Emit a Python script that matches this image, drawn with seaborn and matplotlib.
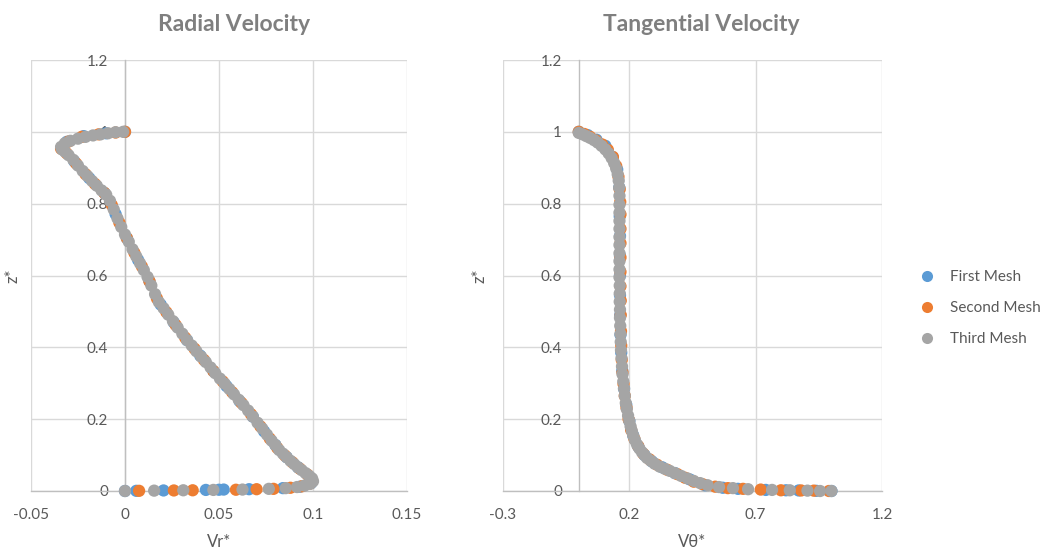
import numpy as np
import pandas as pd
import matplotlib
matplotlib.use("Agg")
import matplotlib.pyplot as plt
import seaborn as sns
from matplotlib.lines import Line2D

# ---------------- data ----------------
mesh_names = ["First Mesh", "Second Mesh", "Third Mesh"]
mesh_colors = ["#5B9BD5", "#ED7D31", "#A5A5A5"]

# Radial velocity Vr* vs z*
vr_first = [0.0, 0.006, 0.0205, 0.043, 0.050, 0.0525, 0.066, 0.084, 0.093, 0.099,
            0.098, 0.092, 0.086, 0.080, 0.074, 0.068, 0.061, 0.054, 0.047, 0.040,
            0.033, 0.026, 0.019, 0.013, 0.007, 0.001, -0.005, -0.011, -0.019, -0.027,
            -0.033, -0.031, -0.022, -0.010, 0.0]
z_r_first = [0.0, 0.0005, 0.0015, 0.003, 0.0035, 0.004, 0.005, 0.008, 0.012, 0.022,
             0.040, 0.066, 0.094, 0.128, 0.166, 0.207, 0.250, 0.292, 0.334, 0.377,
             0.420, 0.469, 0.519, 0.584, 0.643, 0.704, 0.771, 0.830, 0.871, 0.918,
             0.952, 0.972, 0.988, 0.996, 1.0]

vr_second = [0.0075, 0.026, 0.036, 0.059, 0.070, 0.079, 0.088, 0.094, 0.0985, 0.0995,
             0.097, 0.093, 0.089, 0.085, 0.081, 0.077, 0.072, 0.067, 0.062, 0.057,
             0.052, 0.047, 0.042, 0.037, 0.032, 0.027, 0.022, 0.017, 0.013, 0.009,
             0.005, 0.001, -0.003, -0.007, -0.011, -0.016, -0.021, -0.026, -0.031, -0.034,
             -0.030, -0.023, -0.014, -0.005, 0.0]
z_r_second = [0.0005, 0.0015, 0.002, 0.0035, 0.005, 0.006, 0.009, 0.013, 0.021, 0.030,
              0.046, 0.062, 0.080, 0.099, 0.120, 0.146, 0.180, 0.214, 0.245, 0.275,
              0.305, 0.334, 0.365, 0.396, 0.427, 0.462, 0.498, 0.536, 0.584, 0.625,
              0.663, 0.704, 0.747, 0.796, 0.830, 0.855, 0.882, 0.912, 0.940, 0.953,
              0.973, 0.986, 0.993, 0.998, 1.0]

vr_third = [0.0, 0.0155, 0.031, 0.047, 0.0625, 0.0765, 0.0855, 0.0915, 0.0955, 0.0985,
            0.1000, 0.0995, 0.098, 0.096, 0.094, 0.092, 0.090, 0.088, 0.086, 0.084,
            0.082, 0.080, 0.078, 0.0755, 0.073, 0.0705, 0.068, 0.0655, 0.063, 0.0605,
            0.058, 0.0555, 0.053, 0.0505, 0.048, 0.0455, 0.043, 0.0405, 0.038, 0.0355,
            0.033, 0.0305, 0.028, 0.0255, 0.023, 0.0205, 0.018, 0.016, 0.014, 0.012,
            0.010, 0.008, 0.006, 0.004, 0.002, 0.0, -0.002, -0.004, -0.006, -0.008,
            -0.010, -0.0125, -0.015, -0.0175, -0.020, -0.0225, -0.025, -0.0275, -0.030, -0.032,
            -0.0335, -0.034, -0.032, -0.029, -0.025, -0.021, -0.017, -0.013, -0.009, -0.005, -0.001]
z_r_third = [0.0, 0.001, 0.002, 0.003, 0.004, 0.006, 0.008, 0.011, 0.015, 0.020,
             0.027, 0.035, 0.042, 0.050, 0.058, 0.066, 0.075, 0.084, 0.094, 0.104,
             0.114, 0.128, 0.140, 0.157, 0.174, 0.190, 0.207, 0.224, 0.239, 0.254,
             0.269, 0.284, 0.299, 0.313, 0.328, 0.344, 0.359, 0.374, 0.389, 0.405,
             0.420, 0.438, 0.455, 0.473, 0.491, 0.509, 0.526, 0.548, 0.572, 0.596,
             0.615, 0.634, 0.653, 0.673, 0.694, 0.714, 0.735, 0.759, 0.784, 0.808,
             0.825, 0.837, 0.850, 0.863, 0.877, 0.891, 0.906, 0.922, 0.935, 0.945,
             0.951, 0.958, 0.968, 0.975, 0.981, 0.986, 0.990, 0.993, 0.996, 0.999, 1.0]

# Tangential velocity Vtheta* vs z*
vt_first = [1.0, 0.94, 0.87, 0.82, 0.74, 0.63, 0.57, 0.50, 0.44, 0.38,
            0.33, 0.29, 0.26, 0.235, 0.215, 0.20, 0.188, 0.179, 0.172, 0.168,
            0.165, 0.164, 0.163, 0.163, 0.163, 0.163, 0.162, 0.160, 0.152, 0.134,
            0.105, 0.070, 0.035, 0.0]
z_t_first = [0.0, 0.0005, 0.0015, 0.002, 0.003, 0.006, 0.009, 0.016, 0.032, 0.050,
             0.066, 0.082, 0.100, 0.124, 0.155, 0.195, 0.240, 0.285, 0.335, 0.385,
             0.435, 0.490, 0.545, 0.600, 0.655, 0.710, 0.765, 0.845, 0.895, 0.930,
             0.961, 0.978, 0.991, 1.0]

vt_second = [0.99, 0.93, 0.88, 0.80, 0.72, 0.65, 0.59, 0.54, 0.49, 0.455,
             0.42, 0.39, 0.35, 0.31, 0.28, 0.255, 0.235, 0.22, 0.207, 0.197,
             0.189, 0.182, 0.177, 0.173, 0.170, 0.168, 0.167, 0.166, 0.166, 0.165,
             0.165, 0.165, 0.165, 0.165, 0.165, 0.164, 0.162, 0.157, 0.148, 0.135,
             0.115, 0.092, 0.068, 0.045, 0.022, 0.0]
z_t_second = [0.0, 0.001, 0.0015, 0.002, 0.004, 0.006, 0.008, 0.012, 0.019, 0.026,
              0.037, 0.047, 0.059, 0.073, 0.088, 0.104, 0.125, 0.145, 0.170, 0.200,
              0.232, 0.265, 0.298, 0.330, 0.365, 0.405, 0.445, 0.490, 0.530, 0.570,
              0.610, 0.650, 0.690, 0.730, 0.770, 0.805, 0.840, 0.875, 0.905, 0.930,
              0.950, 0.965, 0.976, 0.986, 0.994, 1.0]

vt_third = [1.0, 0.955, 0.905, 0.835, 0.765, 0.67, 0.61, 0.555, 0.51, 0.48,
            0.455, 0.43, 0.405, 0.38, 0.36, 0.34, 0.32, 0.30, 0.285, 0.27,
            0.26, 0.25, 0.24, 0.23, 0.222, 0.215, 0.21, 0.205, 0.20, 0.195,
            0.19, 0.186, 0.182, 0.179, 0.176, 0.173, 0.171, 0.169, 0.167, 0.166,
            0.165, 0.164, 0.163, 0.163, 0.162, 0.162, 0.162, 0.161, 0.161, 0.161,
            0.161, 0.161, 0.161, 0.161, 0.161, 0.161, 0.161, 0.161, 0.160, 0.158,
            0.154, 0.148, 0.140, 0.130, 0.118, 0.105, 0.090, 0.075, 0.060, 0.045,
            0.030, 0.015, 0.0]
z_t_third = [0.0, 0.0, 0.001, 0.002, 0.003, 0.005, 0.008, 0.011, 0.016, 0.022,
             0.028, 0.035, 0.042, 0.050, 0.056, 0.062, 0.068, 0.076, 0.084, 0.092,
             0.100, 0.108, 0.118, 0.130, 0.142, 0.155, 0.167, 0.180, 0.195, 0.210,
             0.228, 0.245, 0.265, 0.285, 0.305, 0.325, 0.347, 0.370, 0.392, 0.415,
             0.437, 0.460, 0.482, 0.505, 0.527, 0.550, 0.572, 0.595, 0.617, 0.640,
             0.662, 0.685, 0.707, 0.730, 0.752, 0.775, 0.797, 0.822, 0.845, 0.864,
             0.882, 0.898, 0.913, 0.927, 0.940, 0.951, 0.961, 0.970, 0.977, 0.983,
             0.988, 0.993, 0.997]

radial_xticks = [-0.05, 0, 0.05, 0.1, 0.15]
radial_xticklabels = ["-0.05", "0", "0.05", "0.1", "0.15"]
tang_xticks = [-0.3, 0.2, 0.7, 1.2]
tang_xticklabels = ["-0.3", "0.2", "0.7", "1.2"]
yticks = [0, 0.2, 0.4, 0.6, 0.8, 1.0, 1.2]
yticklabels = ["0", "0.2", "0.4", "0.6", "0.8", "1", "1.2"]

# ---------------- build frames ----------------
def frame(xs, zs, xname):
    parts = []
    for name, x, z in zip(mesh_names, xs, zs):
        parts.append(pd.DataFrame({xname: x, "z": z, "mesh": name}))
    return pd.concat(parts, ignore_index=True)

df_r = frame([vr_first, vr_second, vr_third], [z_r_first, z_r_second, z_r_third], "v")
df_t = frame([vt_first, vt_second, vt_third], [z_t_first, z_t_second, z_t_third], "v")

# ---------------- style ----------------
sns.set_theme(style="white")
plt.rcParams["font.family"] = ["Lato", "DejaVu Sans"]

W, H = 1054, 551
fig = plt.figure(figsize=(W / 100, H / 100), dpi=100)

def px_axes(x0, x1, y0, y1):
    return fig.add_axes([x0 / W, 1 - y1 / H, (x1 - x0) / W, (y1 - y0) / H])

ax1 = px_axes(31, 407, 60, 491)
ax2 = px_axes(503, 882, 60, 491)

grid_c = "#D9D9D9"
axis_c = "#BFBFBF"
tick_c = "#595959"
title_c = "#7F7F7F"

panels = [
    (ax1, df_r, (-0.05, 0.15), radial_xticks, radial_xticklabels, "Vr*", "Radial Velocity", 0.54),
    (ax2, df_t, (-0.3, 1.2), tang_xticks, tang_xticklabels, "V\u03b8*", "Tangential Velocity", 0.522),
]

for ax, df, xlim, xt, xtl, xlab, title, tx in panels:
    sns.scatterplot(data=df, x="v", y="z", hue="mesh", hue_order=mesh_names,
                    palette=mesh_colors, s=78, linewidth=0, legend=False, ax=ax)
    for coll in ax.collections:
        coll.set_clip_on(False)
        coll.set_zorder(5)
    ax.set_xlim(*xlim)
    ax.set_ylim(0, 1.2)
    ax.set_xticks(xt)
    ax.set_xticklabels(xtl)
    ax.set_yticks(yticks)
    ax.set_yticklabels(yticklabels)
    ax.grid(True, color=grid_c, linewidth=1.0)
    ax.set_axisbelow(True)
    for side in ["top", "right"]:
        ax.spines[side].set_visible(False)
    ax.spines["left"].set_position(("data", 0))
    ax.spines["left"].set_color(axis_c)
    ax.spines["left"].set_linewidth(1.0)
    ax.spines["bottom"].set_color(axis_c)
    ax.spines["bottom"].set_linewidth(1.0)
    ax.tick_params(axis="both", length=0, labelsize=11, labelcolor=tick_c)
    ax.tick_params(axis="y", pad=12)
    ax.tick_params(axis="x", pad=12)
    ax.set_xlabel(xlab, fontsize=12, color=tick_c, labelpad=9)
    ax.set_ylabel("z*", fontsize=12, color=tick_c)
    ax.text(tx, 1.0835, title, transform=ax.transAxes, ha="center", va="center",
            fontsize=16.5, fontweight="bold", color=title_c)

ax1.yaxis.set_label_coords(-0.029, 0.5)
ax2.yaxis.set_label_coords(-0.04, 0.5)

handles = [Line2D([0], [0], marker="o", linestyle="", markersize=8,
                  markerfacecolor=c, markeredgewidth=0) for c in mesh_colors]
leg = fig.legend(handles, mesh_names, loc="center left", bbox_to_anchor=(0.859, 0.441),
                 frameon=False, fontsize=11, labelspacing=1.12, handletextpad=1.0,
                 handlelength=1.0)
for t in leg.get_texts():
    t.set_color(tick_c)

fig.savefig("out.png", dpi=100)
